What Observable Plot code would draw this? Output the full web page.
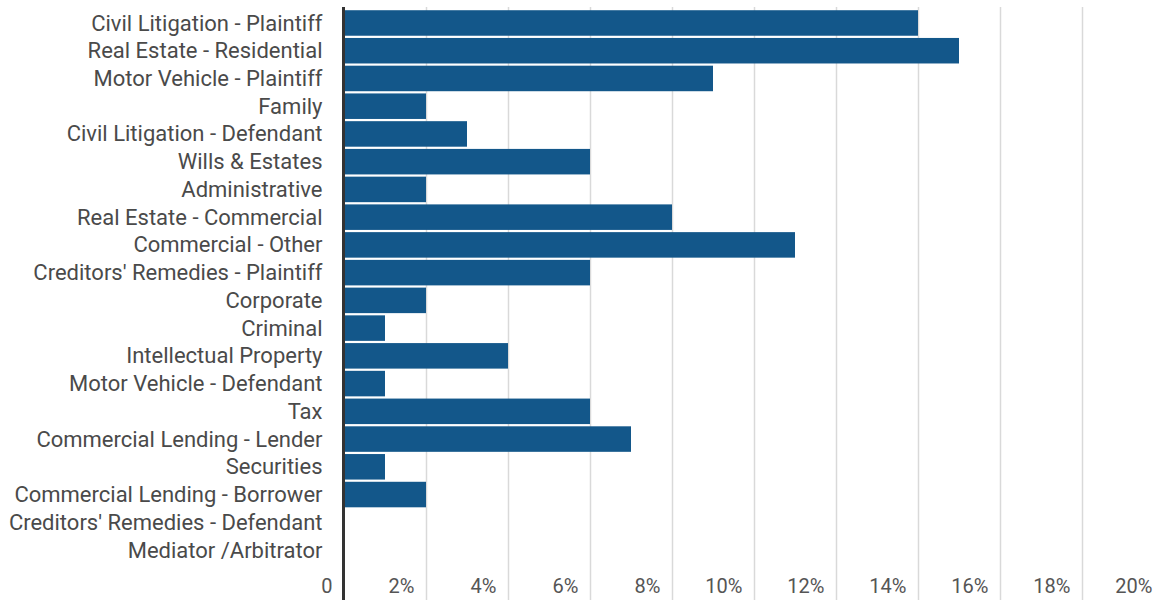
<!DOCTYPE html>
<html>
<head>
<meta charset="utf-8">
<script src="https://cdn.jsdelivr.net/npm/d3@7"></script>
<script src="https://cdn.jsdelivr.net/npm/@observablehq/plot@0.6"></script>
<style>
  html, body { margin: 0; padding: 0; background: #fff; }
  svg { display: block; }
</style>
</head>
<body>
<div id="chart"></div>
<script>
const categories = [
  "Civil Litigation - Plaintiff",
  "Real Estate - Residential",
  "Motor Vehicle - Plaintiff",
  "Family",
  "Civil Litigation - Defendant",
  "Wills & Estates",
  "Administrative",
  "Real Estate - Commercial",
  "Commercial - Other",
  "Creditors' Remedies - Plaintiff",
  "Corporate",
  "Criminal",
  "Intellectual Property",
  "Motor Vehicle - Defendant",
  "Tax",
  "Commercial Lending - Lender",
  "Securities",
  "Commercial Lending - Borrower",
  "Creditors' Remedies - Defendant",
  "Mediator /Arbitrator"
];
const values = [14, 15, 9, 2, 3, 6, 2, 8, 11, 6, 2, 1, 4, 1, 6, 7, 1, 2, 0, 0];
const tickValues = [0, 2, 4, 6, 8, 10, 12, 14, 16, 18, 20];
const tickLabels = ["0", "2%", "4%", "6%", "8%", "10%", "12%", "14%", "16%", "18%", "20%"];

const data = categories.map((c, i) => ({category: c, value: values[i]}));
const ticks = tickValues.map((v, i) => ({v, label: tickLabels[i]}));

const chart = Plot.plot({
  width: 1155,
  height: 600,
  marginTop: 7,
  marginBottom: 0,
  marginLeft: 344,
  marginRight: 0,
  style: {fontFamily: "Roboto, sans-serif", background: "#fff"},
  x: {domain: [0, 20], range: [344, 1164], axis: null},
  y: {domain: categories, range: [8, 565], padding: 0.08, round: false, axis: null},
  marks: [
    Plot.ruleX(tickValues.slice(1), {stroke: "#d9d9d9", strokeWidth: 1.5}),
    Plot.barX(data, {x: "value", y: "category", fill: "#13578a"}),
    Plot.ruleX([0], {stroke: "#333", strokeWidth: 3, dx: -1}),
    Plot.text(categories, {
      y: d => d, frameAnchor: "left", x: 0, dx: -22, textAnchor: "end",
      text: d => d, fontSize: 22, fill: "#4a4a4a"
    }),
    Plot.text(ticks, {
      x: "v", text: "label", frameAnchor: "bottom", dy: -14, dx: -12,
      lineAnchor: "middle", textAnchor: "end", fontSize: 20, fill: "#555"
    })
  ]
});
document.getElementById("chart").appendChild(chart);
</script>
</body>
</html>
